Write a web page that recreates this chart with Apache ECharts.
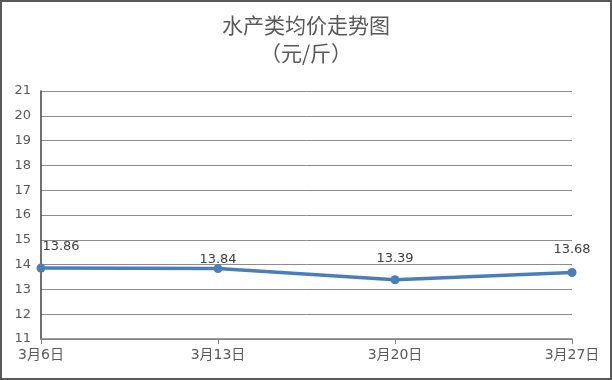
<!DOCTYPE html>
<html>
<head>
<meta charset="utf-8">
<script src="https://cdn.jsdelivr.net/npm/echarts@6/dist/echarts.min.js"></script>
<style>
	html, body { margin: 0; padding: 0; background: #fff; }
	#chart { width: 608px; height: 376px; border: 2px solid #595959; }
</style>
</head>
<body>
<div id="chart"></div>
<script>
	// 日期
	const dates = ['3月6日', '3月13日', '3月20日', '3月27日']
	// 均价（元/斤）
	const prices = [13.86, 13.84, 13.39, 13.68]
	// 标签偏移
	const labelOffsets = [[20, 0], [0, 12], [0, 0], [0, -2]]

	const chart = echarts.init(document.getElementById('chart'))
	const option = {
		animation: false,
		title: {
			text: '水产类均价走势图\n（元/斤）',
			left: 'center',
			top: 4,
			textStyle: {
				color: '#595959',
				fontSize: 21,
				fontWeight: 'normal',
				lineHeight: 28,
				fontFamily: 'Noto Sans CJK SC'
			}
		},
		grid: {
			left: 39,
			right: 38,
			top: 89,
			bottom: 39
		},
		xAxis: {
			type: 'category',
			boundaryGap: false,
			data: dates,
			axisLine: { lineStyle: { color: '#7f7f7f', width: 1.5 } },
			axisTick: { show: true, length: 5, lineStyle: { color: '#7f7f7f' } },
			axisLabel: {
				color: '#595959',
				fontSize: 14,
				margin: 9,
				fontFamily: 'DejaVu Sans, Noto Sans CJK SC'
			}
		},
		yAxis: {
			type: 'value',
			min: 11,
			max: 21,
			interval: 1,
			axisLine: { show: true, lineStyle: { color: '#404040', width: 1.5 } },
			axisTick: { show: false },
			axisLabel: {
				color: '#595959',
				fontSize: 13,
				margin: 10,
				fontFamily: 'DejaVu Sans'
			},
			splitLine: { lineStyle: { color: '#8c8c8c', width: 1 } }
		},
		series: [{
			type: 'line',
			data: prices.map((v, i) => ({
				value: v,
				label: { offset: labelOffsets[i] }
			})),
			symbol: 'circle',
			symbolSize: 9,
			lineStyle: { color: '#4a7ebb', width: 3.5 },
			itemStyle: { color: '#4a7ebb' },
			label: {
				show: true,
				position: 'top',
				distance: 10,
				color: '#404040',
				fontSize: 13,
				fontFamily: 'DejaVu Sans'
			}
		}]
	}
	chart.setOption(option)
</script>
</body>
</html>
